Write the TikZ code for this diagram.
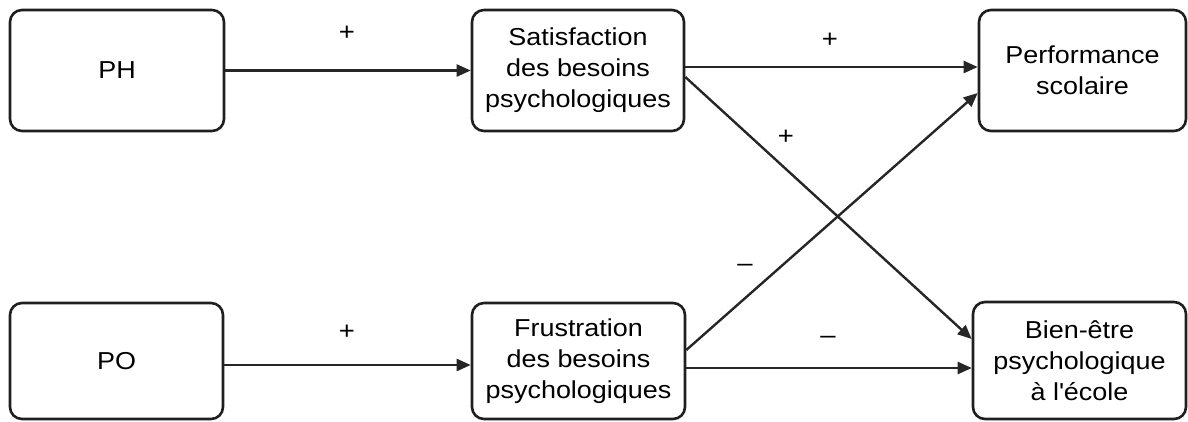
\documentclass[tikz,border=0pt]{standalone}
\usepackage{fontspec}
\setmainfont{Liberation Sans}[FakeStretch=1.1]
\usetikzlibrary{arrows.meta}
\begin{document}
\begin{tikzpicture}[x=1pt,y=-1pt,
  box/.style={draw=black!88, line width=2.6pt, rounded corners=12pt, align=center,
    font=\fontsize{24.5}{31}\selectfont, inner sep=0pt, text=black},
  arr/.style={draw=black!85, line width=2.4pt, -{Triangle[length=14pt,width=12pt]}},
  lbl/.style={font=\fontsize{25}{28}\selectfont, text=black, inner sep=0pt}]
\useasboundingbox (0,0) rectangle (1188,421);
\node[box, minimum width=214pt, minimum height=121pt] (ph) at (117,70.5) {PH};
\node[box, minimum width=212pt, minimum height=121pt] (sat) at (578,70.5) {Satisfaction\\des besoins\\psychologiques};
\node[box, minimum width=207pt, minimum height=121pt] (perf) at (1082.5,70.5) {Performance\\scolaire};
\node[box, minimum width=213pt, minimum height=116pt] (po) at (116.5,361) {PO};
\node[box, minimum width=213pt, minimum height=116pt] (fru) at (578.5,361) {Frustration\\des besoins\\psychologiques};
\node[box, minimum width=213pt, minimum height=117pt] (bien) at (1079.5,360.5) {Bien-être\\psychologique\\à l\textquotesingle école};

\draw[arr] (ph.east) -- (sat.west);
\draw[arr] ([yshift=3.5pt]sat.east) -- ([yshift=3.5pt]perf.west);
\draw[arr] ([yshift=-6.5pt]sat.east) -- ([yshift=21.5pt]bien.west);
\draw[arr] ([yshift=11pt]fru.east) -- ([yshift=-22.5pt]perf.west);
\draw[arr] ([yshift=-7pt]fru.east) -- ([yshift=-7.5pt]bien.west);
\draw[arr] ([yshift=-4pt]po.east) -- ([yshift=-4pt]fru.west);

\node[lbl] (l1) at (347,33) {+};
\node[lbl] (l2) at (830,40) {+};
\node[lbl] (l3) at (786,137) {+};
\node[lbl] (l4) at (745,268) {–};
\node[lbl] (l5) at (828,340) {–};
\node[lbl] (l6) at (347,332) {+};
\end{tikzpicture}
\end{document}
